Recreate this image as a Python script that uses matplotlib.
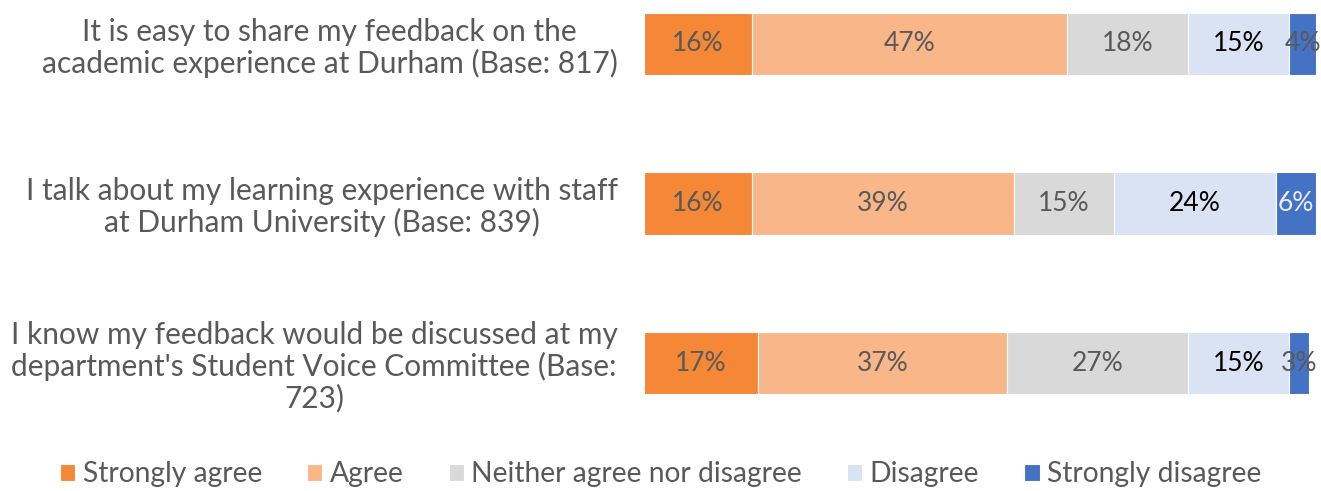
import matplotlib.pyplot as plt
import numpy as np
from matplotlib import font_manager

# Survey statements (top to bottom) and response shares in percent
statements = [
    "It is easy to share my feedback on the\nacademic experience at Durham (Base: 817)",
    "I talk about my learning experience with staff\nat Durham University (Base: 839)",
    "I know my feedback would be discussed at my\ndepartment's Student Voice Committee (Base:\n723)",
]
responses = ["Strongly agree", "Agree", "Neither agree nor disagree", "Disagree", "Strongly disagree"]
strongly_agree = [16, 16, 17]
agree = [47, 39, 37]
neither = [18, 15, 27]
disagree = [15, 24, 15]
strongly_disagree = [4, 6, 3]

colors = ["#F58837", "#F9B689", "#D9D9D9", "#DAE3F3", "#4472C4"]
label_colors = ["#595959", "#595959", "#595959", "#000000", "#595959"]

installed = {f.name for f in font_manager.fontManager.ttflist}
family = [f for f in ["Lato", "DejaVu Sans"] if f in installed]
plt.rcParams["font.family"] = family
plt.rcParams["text.color"] = "#595959"

fig = plt.figure(figsize=(13.21, 4.91), dpi=100)
ax = fig.add_axes([644 / 1321, (491 - 395) / 491, 672 / 1321, 383 / 491])

series = [strongly_agree, agree, neither, disagree, strongly_disagree]
y = np.arange(len(statements))
left = np.zeros(len(statements))
for name, vals, col, lcol in zip(responses, series, colors, label_colors):
    vals = np.array(vals, dtype=float)
    ax.barh(y, vals, left=left, height=0.39, color=col, edgecolor="white",
            linewidth=0.8, label=name)
    for yi, (l, v) in enumerate(zip(left, vals)):
        c = lcol
        if name == "Strongly disagree" and yi == 1:
            c = "#E8EEF8"
        ax.text(l + v / 2, yi, f"{int(v)}%", ha="center", va="center",
                fontsize=19, color=c)
    left += vals

ax.set_xlim(0, 100)
ax.set_ylim(2.2, -0.2)
ax.set_yticks(y)
ax.set_yticklabels(statements, fontsize=21.5, color="#595959",
                   multialignment="center", linespacing=1.12)
ax.tick_params(axis="y", length=0, pad=19)
ax.set_xticks([])
for s in ax.spines.values():
    s.set_visible(False)

fig.legend(loc="center", bbox_to_anchor=(0.5, 17 / 491), ncol=5, frameon=False,
           fontsize=20.3, handlelength=0.55, handleheight=0.55, handletextpad=0.25,
           columnspacing=1.6, labelcolor="#595959")

fig.savefig("out.png", dpi=100)
